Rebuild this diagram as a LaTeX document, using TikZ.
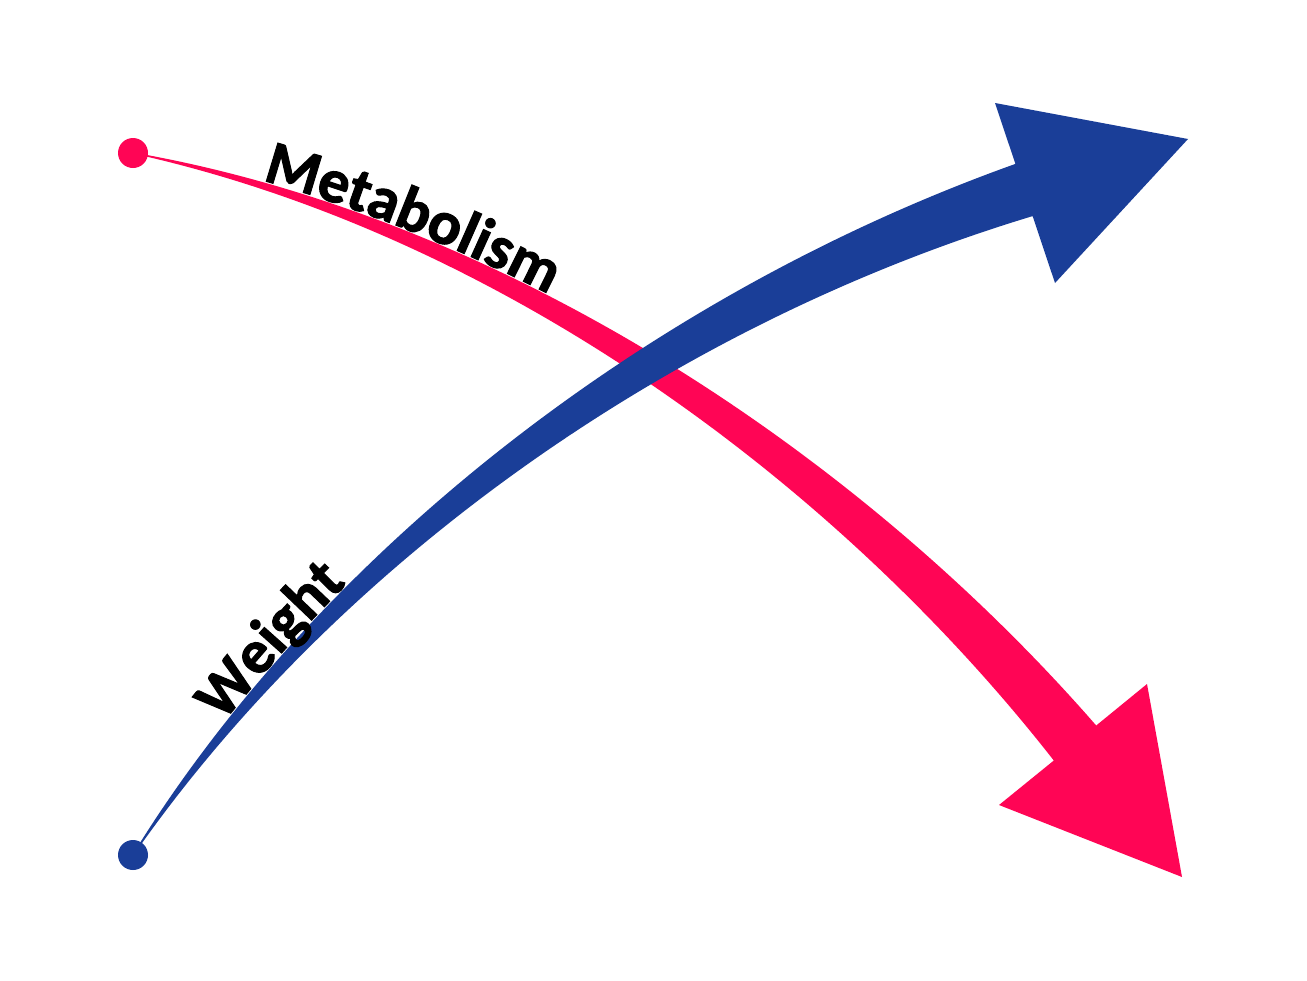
\documentclass[tikz,border=0pt]{standalone}
\usepackage{fontspec}
\setmainfont{Carlito}
\newfontfamily\mylabelfam{Carlito}[BoldFeatures={FakeBold=1.6}]
\usetikzlibrary{decorations.text}
\definecolor{mpink}{RGB}{255,5,85}
\definecolor{mblue}{RGB}{26,62,152}
\newcommand\mylabelfont{\mylabelfam\fontsize{62}{62}\selectfont\bfseries}
\begin{document}
\begin{tikzpicture}[x=1bp,y=-1bp,
  pinkshape/.style={fill=mpink, draw=none},
  blueshape/.style={fill=mblue, draw=none},
  enddot/.style={circle, minimum size=30bp, inner sep=0pt, draw=none},
  labelpath/.style={decorate, decoration={text along path, text={|\mylabelfont|#1}, text align={left, left indent=\labelindent}, raise=1.5bp}}
]
\fill[white] (0,0) rectangle (1307,980);
\useasboundingbox (0,0) rectangle (1307,980);

% pink arrow (Metabolism)
\coordinate (pU0) at (133.1,152.5);
\coordinate (pU1) at (510.6,218.5);
\coordinate (pU2) at (864.6,459.7);
\coordinate (pU3) at (1096.2,725.5);
\coordinate (pL0) at (132.9,153.5);
\coordinate (pL1) at (503.4,235.5);
\coordinate (pL2) at (839.4,486.3);
\coordinate (pL3) at (1053.8,760.5);
\coordinate (pH1) at (1147,684);
\coordinate (pTip) at (1182,877);
\coordinate (pH2) at (999,805);
\fill[pinkshape] (pU0) .. controls (pU1) and (pU2) .. (pU3) -- (pH1) -- (pTip) -- (pH2) -- (pL3) .. controls (pL2) and (pL1) .. (pL0) -- cycle;
\node[enddot, fill=mpink] (dotM) at (133,153) {};

% blue arrow (Weight)
\coordinate (bU0) at (132.6,854.7);
\coordinate (bU1) at (317.3,554.8);
\coordinate (bU2) at (645.6,296.1);
\coordinate (bU3) at (1015.4,163.9);
\coordinate (bL0) at (133.4,855.3);
\coordinate (bL1) at (332.7,569.2);
\coordinate (bL2) at (662.4,327.9);
\coordinate (bL3) at (1032.6,216.1);
\coordinate (bH1) at (995,103);
\coordinate (bTip) at (1188,139);
\coordinate (bH2) at (1055,283);
\fill[blueshape] (bU0) .. controls (bU1) and (bU2) .. (bU3) -- (bH1) -- (bTip) -- (bH2) -- (bL3) .. controls (bL2) and (bL1) .. (bL0) -- cycle;
\node[enddot, fill=mblue] (dotW) at (133,855) {};

% labels along the curves
\def\labelindent{132bp}
\path[labelpath=Metabolism] (pU0) .. controls (pU1) and (pU2) .. (pU3);
\def\labelindent{160bp}
\path[labelpath=Weight] (bU0) .. controls (bU1) and (bU2) .. (bU3);
\end{tikzpicture}
\end{document}
